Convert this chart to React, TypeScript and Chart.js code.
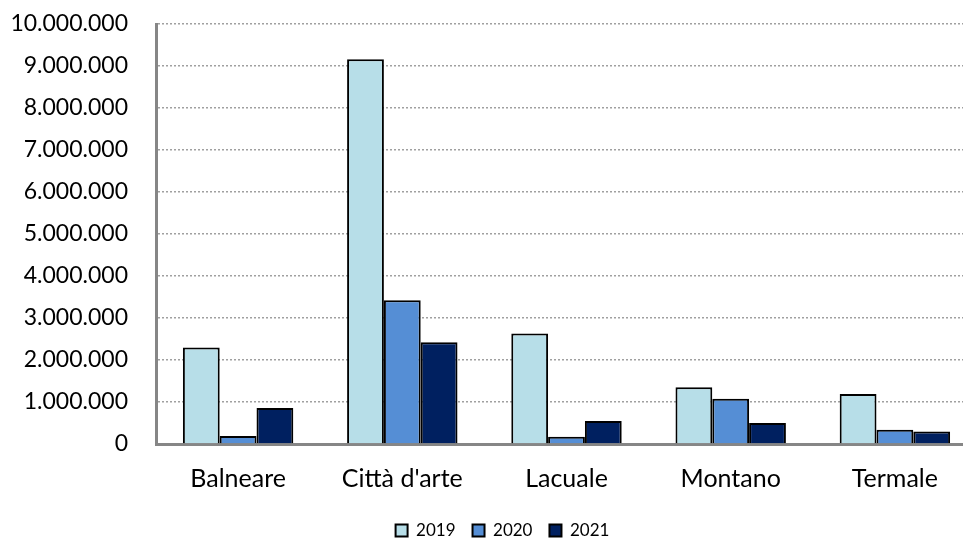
import React, { useEffect, useRef } from "react";
import { Chart, registerables } from "chart.js";

Chart.register(...registerables);

const categories = ["Balneare", "Città d'arte", "Lacuale", "Montano", "Termale"];
const seriesLabels = ["2019", "2020", "2021"];
const values2019 = [2300000, 9160000, 2630000, 1350000, 1190000];
const values2020 = [190000, 3420000, 170000, 1080000, 340000];
const values2021 = [860000, 2420000, 550000, 500000, 300000];
const seriesColors = ["#B7DEE8", "#558ED5", "#002060"];
const yMax = 10000000;
const yStep = 1000000;

const FONT = "Lato, 'Noto Sans', sans-serif";

function fmt(v: number): string {
  return String(Math.round(v)).replace(/\B(?=(\d{3})+(?!\d))/g, ".");
}

export default function App() {
  const ref = useRef<HTMLCanvasElement | null>(null);

  useEffect(() => {
    document.body.style.margin = "0";
    const canvas = ref.current;
    if (!canvas) return;
    const seriesData = [values2019, values2020, values2021];
    const padLeft = 28;
    const unclipY = {
      id: "unclipY",
      afterLayout(c: any) {
        if (c.scales && c.scales.y) c.scales.y.left = 0;
      },
    };
    const chart = new Chart(canvas, {
      type: "bar",
      data: {
        labels: categories,
        datasets: seriesLabels.map((lab, i) => ({
          label: lab,
          data: seriesData[i],
          backgroundColor: seriesColors[i],
          borderColor: "#000000",
          borderWidth: 2,
          categoryPercentage: 0.6725,
          barPercentage: 1,
        })),
      },
      plugins: [unclipY],
      options: {
        animation: false,
        responsive: false,
        devicePixelRatio: 1,
        layout: { padding: { top: 24, left: padLeft, right: 3, bottom: 0 } },
        plugins: {
          tooltip: { enabled: false },
          legend: {
            position: "bottom",
            labels: {
              boxWidth: 12,
              boxHeight: 12,
              padding: 17,
              color: "#000",
              font: { family: FONT, size: 17 },
            },
          },
        },
        scales: {
          x: {
            grid: { display: false, drawTicks: false },
            border: { display: true, color: "#868686", width: 3 },
            ticks: {
              color: "#000",
              padding: 20,
              font: { family: FONT, size: 25 },
            },
            afterFit: (scale: any) => {
              scale.height = 61;
            },
          },
          y: {
            min: 0,
            max: yMax,
            grid: { color: "#A0A0A0", lineWidth: 1.5, drawTicks: false },
            border: { display: true, color: "#868686", width: 3, dash: [2, 2] },
            ticks: {
              stepSize: yStep,
              color: "#000",
              padding: 28,
              font: { family: FONT, size: 23 },
              callback: (v: any) => fmt(Number(v)),
            },
            afterFit: (scale: any) => {
              scale.width = 156 - padLeft;
              scale.paddingTop = 0;
              scale.paddingBottom = 0;
            },
          },
        },
      },
    } as any);
    return () => chart.destroy();
  }, []);

  return (
    <div style={{ width: 963, height: 539, overflow: "hidden", background: "#fff" }}>
      <canvas ref={ref} width={980} height={549} style={{ display: "block" }} />
    </div>
  );
}
